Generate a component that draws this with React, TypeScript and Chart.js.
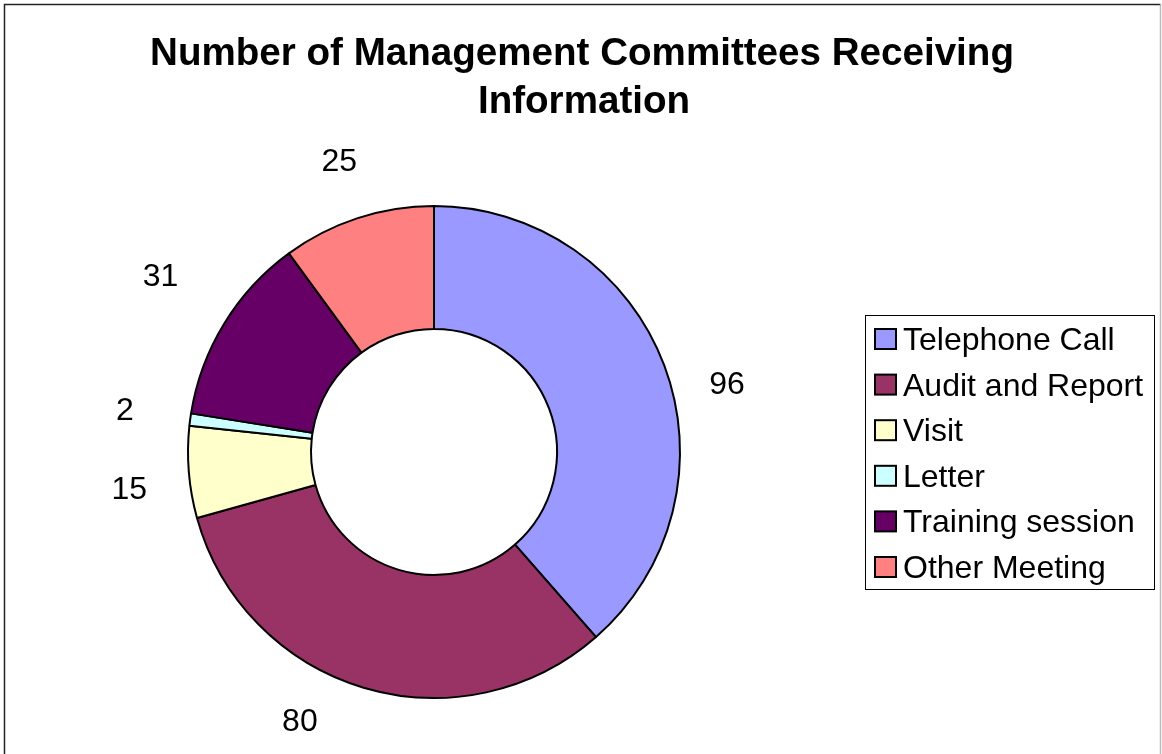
import React, { useEffect, useRef } from "react";
import { Chart, registerables } from "chart.js";

Chart.register(...registerables);

const titleLines = ["Number of Management Committees Receiving", "Information"];
const categories = [
  "Telephone Call",
  "Audit and Report",
  "Visit",
  "Letter",
  "Training session",
  "Other Meeting",
];
const values = [96, 80, 15, 2, 31, 25];
const colors = ["#9999FF", "#993366", "#FFFFCC", "#CCFFFF", "#660066", "#FF8080"];
// placement tweaks for the outside value labels, as in the original
const labelNudgeDeg = [7.7, 9.8, -2.4, 0, 1.2, 0];
const labelRadiusScale = [1.222, 1.225, 1.248, 1.268, 1.32, 1.24];

const FONT = '"Liberation Sans", Arial, Helvetica, sans-serif';

const decorPlugin = {
  id: "decor",
  afterDraw(chart: any) {
    const ctx = chart.ctx as CanvasRenderingContext2D;
    const W = chart.width;
    const H = chart.height;
    ctx.save();

    // outer frame
    ctx.strokeStyle = "#222";
    ctx.lineWidth = 1.5;
    ctx.beginPath();
    ctx.moveTo(4.5, H + 5);
    ctx.lineTo(4.5, 4.5);
    ctx.lineTo(W - 1.5, 4.5);
    ctx.stroke();
    ctx.strokeStyle = "#bbb";
    ctx.lineWidth = 1.5;
    ctx.beginPath();
    ctx.moveTo(W - 1.5, 4.5);
    ctx.lineTo(W - 1.5, H + 5);
    ctx.stroke();

    // title
    ctx.fillStyle = "#000";
    ctx.font = `bold 38.6px ${FONT}`;
    ctx.textAlign = "center";
    ctx.textBaseline = "alphabetic";
    ctx.fillText(titleLines[0], 582, 65);
    ctx.fillText(titleLines[1], 584, 113);

    // value labels outside the ring
    const meta = chart.getDatasetMeta(0);
    ctx.font = `32px ${FONT}`;
    ctx.textAlign = "center";
    ctx.textBaseline = "middle";
    meta.data.forEach((el: any, i: number) => {
      const p = el.getProps(["x", "y", "startAngle", "endAngle", "outerRadius"], true);
      const mid = (p.startAngle + p.endAngle) / 2 + (labelNudgeDeg[i] * Math.PI) / 180;
      const r = p.outerRadius * labelRadiusScale[i];
      const lx = p.x + Math.cos(mid) * r;
      const ly = p.y + Math.sin(mid) * r;
      ctx.fillText(String(chart.data.datasets[0].data[i]), lx, ly);
    });

    // legend
    const bx = 865.5;
    const by = 315.5;
    const bw = 289;
    const bh = 274;
    ctx.fillStyle = "#fff";
    ctx.fillRect(bx, by, bw, bh);
    ctx.strokeStyle = "#000";
    ctx.lineWidth = 1;
    ctx.strokeRect(bx, by, bw, bh);
    ctx.font = `32px ${FONT}`;
    ctx.textAlign = "left";
    ctx.textBaseline = "alphabetic";
    const labels = chart.data.labels as string[];
    const bg = chart.data.datasets[0].backgroundColor as string[];
    labels.forEach((lab, i) => {
      const cy = 339 + i * 45.6;
      ctx.fillStyle = bg[i];
      ctx.fillRect(875, cy - 10, 21, 20);
      ctx.strokeStyle = "#000";
      ctx.lineWidth = 2;
      ctx.strokeRect(875, cy - 10, 21, 20);
      ctx.fillStyle = "#000";
      ctx.fillText(lab, 903, cy + 11);
    });

    ctx.restore();
  },
};

export default function App() {
  const ref = useRef<HTMLCanvasElement | null>(null);

  useEffect(() => {
    if (!ref.current) return;
    const chart = new Chart(ref.current, {
      type: "doughnut",
      data: {
        labels: categories,
        datasets: [
          {
            data: values,
            backgroundColor: colors,
            borderColor: "#000",
            borderWidth: 2,
          },
        ],
      },
      options: {
        animation: false,
        responsive: false,
        devicePixelRatio: 1,
        cutout: "50%",
        radius: 246,
        layout: { padding: { left: 0, right: 294, top: 170, bottom: 20 } },
        plugins: {
          legend: { display: false },
          title: { display: false },
          tooltip: { enabled: false },
        },
      },
      plugins: [decorPlugin],
    });
    return () => chart.destroy();
  }, []);

  return (
    <div style={{ position: "absolute", left: 0, top: 0, width: 1162, height: 754, background: "#fff" }}>
      <canvas ref={ref} width={1162} height={754} />
    </div>
  );
}
